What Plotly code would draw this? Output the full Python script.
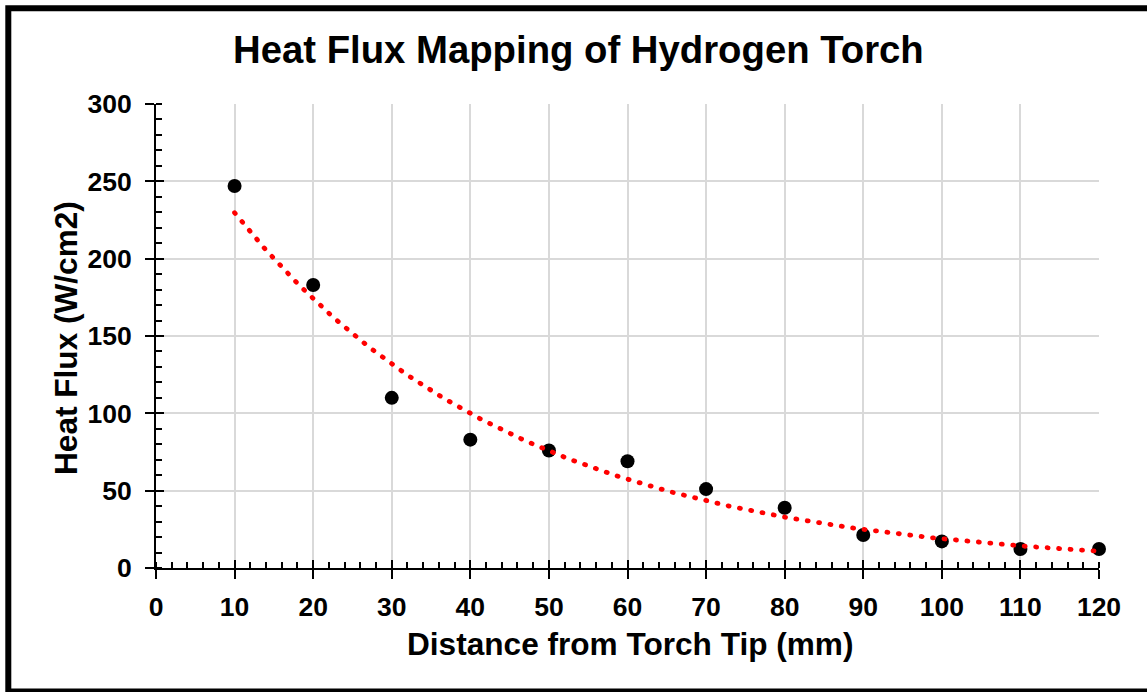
import numpy as np
import plotly.graph_objects as go

# Measured heat flux at distances from the torch tip
distance_mm = [10, 20, 30, 40, 50, 60, 70, 80, 90, 100, 110, 120]
heat_flux = [247, 183, 110, 83, 76, 69, 51, 39, 21.3, 17.2, 12.3, 12.3]

x_ticks = list(range(0, 121, 10))
y_ticks = list(range(0, 301, 50))

# Exponential trendline (least squares on ln y)
slope, intercept = np.polyfit(distance_mm, np.log(heat_flux), 1)
trend_x = np.linspace(min(distance_mm), max(distance_mm), 300)
trend_y = np.exp(intercept + slope * trend_x)

FONT = "Liberation Sans, Arial, sans-serif"
W, H = 1147, 692
L, R, T, B = 156, 48, 104, 124
PW, PH = W - L - R, H - T - B


def px(x):
    return (x - L) / PW


def py(y):
    return (H - B - y) / PH


fig = go.Figure()

fig.add_trace(go.Scatter(
    x=distance_mm, y=heat_flux, mode="markers",
    marker=dict(color="black", size=14, line=dict(width=0)),
    showlegend=False, cliponaxis=False,
))

fig.add_trace(go.Scatter(
    x=trend_x, y=trend_y, mode="lines",
    line=dict(color="#ff0000", width=4.8, dash="1px,10.5px"),
    showlegend=False, hoverinfo="skip",
))

# invisible trace on the overlay axes so they render their ticks
fig.add_trace(go.Scatter(x=[0], y=[0], xaxis="x2", yaxis="y2", mode="markers",
                         marker=dict(opacity=0), showlegend=False, hoverinfo="skip"))

axis_common = dict(
    showline=True, linecolor="black", linewidth=2,
    ticks="outside", ticklen=9, tickwidth=2, tickcolor="black",
    showgrid=True, gridcolor="#d9d9d9", gridwidth=2,
    zeroline=False,
    tickfont=dict(family=FONT, size=26.5, color="black", weight="bold"),
)

fig.update_layout(
    width=W, height=H,
    margin=dict(l=L, r=R, t=T, b=B),
    paper_bgcolor="white", plot_bgcolor="white",
    xaxis=dict(range=[0, 120], tickvals=x_ticks, ticklabelstandoff=5,
               minor=dict(ticks="inside", dtick=2, ticklen=6, tickwidth=2,
                          tickcolor="black", showgrid=False),
               **axis_common),
    yaxis=dict(range=[0, 300], tickvals=y_ticks, ticklabelstandoff=8,
               minor=dict(ticks="inside", dtick=10, ticklen=6, tickwidth=2,
                          tickcolor="black", showgrid=False),
               **axis_common),
    # overlay axes carrying the inner half of the major ticks
    xaxis2=dict(range=[0, 120], tickvals=x_ticks, overlaying="x", anchor="y2",
                ticks="inside", ticklen=8, tickwidth=2, tickcolor="black",
                showticklabels=False, showgrid=False, zeroline=False, showline=False),
    yaxis2=dict(range=[0, 300], tickvals=y_ticks, overlaying="y", anchor="x2",
                ticks="inside", ticklen=8, tickwidth=2, tickcolor="black",
                showticklabels=False, showgrid=False, zeroline=False, showline=False),
    annotations=[
        dict(text="Heat Flux Mapping of Hydrogen Torch", xref="paper", yref="paper",
             x=px(578), y=py(50), xanchor="center", yanchor="middle", showarrow=False,
             font=dict(family=FONT, size=38.3, color="black", weight="bold")),
        dict(text="Distance from Torch Tip (mm)", xref="paper", yref="paper",
             x=px(629.5), y=py(644), xanchor="center", yanchor="middle", showarrow=False,
             font=dict(family=FONT, size=31.6, color="black", weight="bold")),
        dict(text="Heat Flux (W/cm2)", xref="paper", yref="paper", textangle=-90,
             x=px(66), y=py(338), xanchor="center", yanchor="middle", showarrow=False,
             font=dict(family=FONT, size=31.6, color="black", weight="bold")),
    ],
    shapes=[
        dict(type="rect", xref="paper", yref="paper",
             x0=px(8.3), x1=px(1160), y0=py(8.3), y1=py(691.5),
             line=dict(color="black", width=6), fillcolor="rgba(0,0,0,0)", layer="above"),
    ],
)

fig.write_html(
    "out.html",
    post_script="var s=document.createElement('style');"
                "s.textContent='.scatterlayer path.js-line{stroke-linecap:round}';"
                "document.head.appendChild(s);",
)
